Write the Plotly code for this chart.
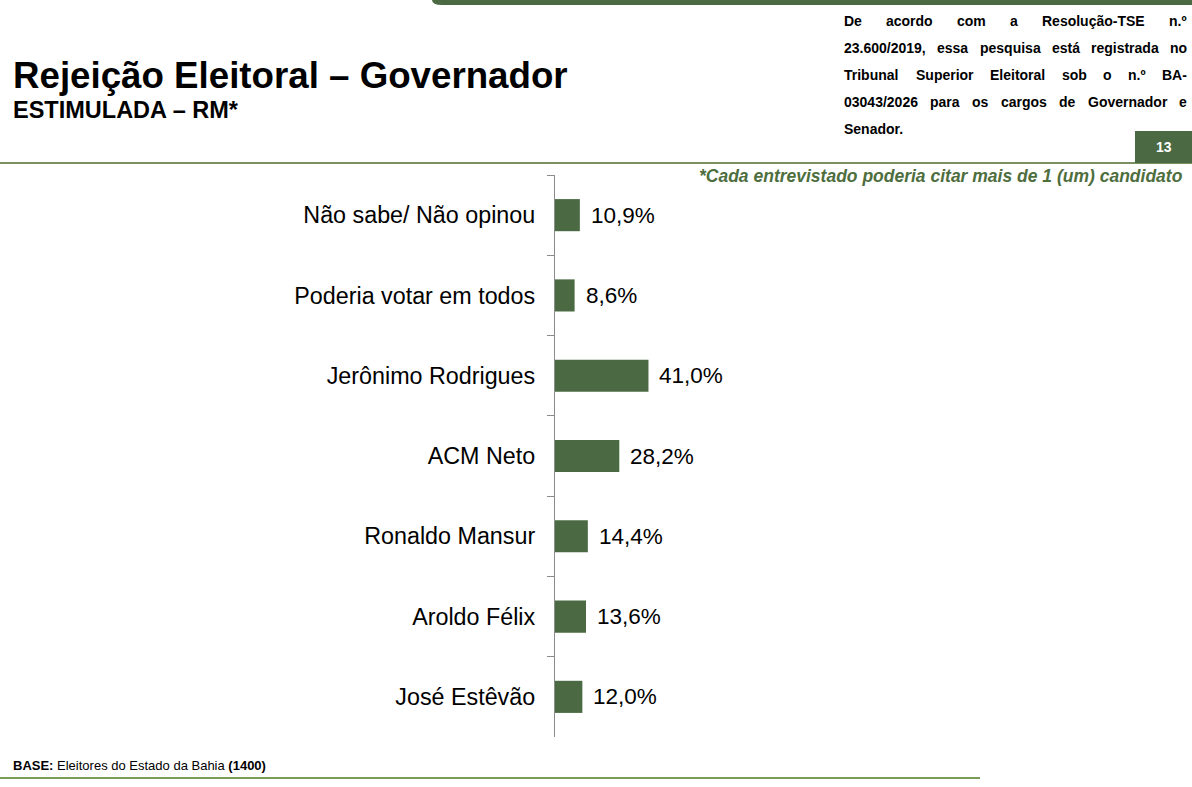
import plotly.graph_objects as go

# ---- data ----
categories = ["Não sabe/ Não opinou", "Poderia votar em todos", "Jerônimo Rodrigues",
              "ACM Neto", "Ronaldo Mansur", "Aroldo Félix", "José Estêvão"]
values = [10.9, 8.6, 41.0, 28.2, 14.4, 13.6, 12.0]
value_labels = [f"{v:.1f}".replace(".", ",") + "%" for v in values]

title_text = "Rejeição Eleitoral – Governador"
subtitle_text = "ESTIMULADA – RM*"
note_text = "*Cada entrevistado poderia citar mais de 1 (um) candidato"
base_text = "<b>BASE:</b> Eleitores do Estado da Bahia <b>(1400)</b>"
page_number = "13"
legal_lines = [
    "De acordo com a Resolução-TSE n.º",
    "23.600/2019, essa pesquisa está registrada no",
    "Tribunal Superior Eleitoral sob o n.º BA-",
    "03043/2026 para os cargos de Governador e",
    "Senador.",
]

# ---- geometry ----
W, H = 1192, 787
L, T = 555, 175
PW, PH = 228, 562
R = W - L - PW
B = H - T - PH

def px(x):
    return (x - L) / PW

def py(y):
    return (T + PH - y) / PH

FONT = "Liberation Sans, Arial, sans-serif"
GREEN = "#4b6a43"
LINE_GREEN = "#4f6a2c"

# Arial/Liberation Sans Bold advance widths (per 1000 em) for justified text layout
_W = {c: 556 for c in "0123456789"}
_W.update({'a': 556, 'b': 611, 'c': 556, 'd': 611, 'e': 556, 'f': 333, 'g': 611, 'h': 611, 'i': 278,
           'j': 278, 'k': 556, 'l': 278, 'm': 889, 'n': 611, 'o': 611, 'p': 611, 'q': 611, 'r': 389,
           's': 556, 't': 333, 'u': 611, 'v': 556, 'w': 778, 'x': 556, 'y': 556, 'z': 500,
           'A': 722, 'B': 722, 'C': 722, 'D': 722, 'E': 667, 'G': 778, 'R': 722, 'S': 667, 'T': 611,
           '.': 278, ',': 278, '/': 278, '-': 333, 'º': 365, 'ç': 556, 'ã': 556, 'á': 556, 'é': 556})

def text_w(s, size):
    return sum(_W.get(ch, 556) for ch in s) * size / 1000.0

LEG_SIZE = 14
LEG_LEFT, LEG_RIGHT = 842, 1185
LEG_TOP, LEG_STEP = 21, 27

fig = go.Figure()
fig.add_trace(go.Bar(
    x=values, y=categories, orientation="h",
    marker=dict(color=GREEN, line=dict(width=0)),
    width=0.4, hoverinfo="skip",
))

annotations = []
for c, v, lab in zip(categories, values, value_labels):
    annotations.append(dict(x=v, y=c, xref="x", yref="y", text=lab, showarrow=False,
                            xanchor="left", yanchor="middle", xshift=9,
                            font=dict(family=FONT, size=22.5, color="black")))

annotations.append(dict(x=px(11), y=py(76), xref="paper", yref="paper", text=f"<b>{title_text}</b>",
                        showarrow=False, xanchor="left", yanchor="middle",
                        font=dict(family=FONT, size=36.7, color="black")))
annotations.append(dict(x=px(11), y=py(110), xref="paper", yref="paper", text=f"<b>{subtitle_text}</b>",
                        showarrow=False, xanchor="left", yanchor="middle",
                        font=dict(family=FONT, size=23.5, color="black")))
annotations.append(dict(x=px(1185), y=py(176), xref="paper", yref="paper", text=f"<b><i>{note_text}</i></b>",
                        showarrow=False, xanchor="right", yanchor="middle",
                        font=dict(family=FONT, size=17.5, color="#4e6e3e")))
annotations.append(dict(x=px(11), y=py(765), xref="paper", yref="paper", text=base_text,
                        showarrow=False, xanchor="left", yanchor="middle",
                        font=dict(family=FONT, size=13, color="black")))
annotations.append(dict(x=px(1164), y=py(147), xref="paper", yref="paper", text=f"<b>{page_number}</b>",
                        showarrow=False, xanchor="center", yanchor="middle",
                        font=dict(family=FONT, size=14, color="white")))

# justified legal text (last line left aligned)
for i, line in enumerate(legal_lines):
    words = line.split(" ")
    yy = LEG_TOP + i * LEG_STEP
    last = i == len(legal_lines) - 1
    if last or len(words) == 1:
        xs, x = [], LEG_LEFT
        for w in words:
            xs.append(x)
            x += text_w(w, LEG_SIZE) + 0.278 * LEG_SIZE
    else:
        total = sum(text_w(w, LEG_SIZE) for w in words)
        gap = (LEG_RIGHT - LEG_LEFT - total) / (len(words) - 1)
        xs, x = [], LEG_LEFT
        for w in words:
            xs.append(x)
            x += text_w(w, LEG_SIZE) + gap
    for w, xx in zip(words, xs):
        annotations.append(dict(x=px(xx), y=py(yy), xref="paper", yref="paper", text=f"<b>{w}</b>",
                                showarrow=False, xanchor="left", yanchor="middle",
                                font=dict(family=FONT, size=LEG_SIZE, color="black")))

shapes = []
# top bar with rounded left end
x0, x1 = px(432), px(W)
y0, y1 = py(0), py(5)
xr = px(442)
shapes.append(dict(type="path", xref="paper", yref="paper",
                   path=f"M {x0},{y0} L {x1},{y0} L {x1},{y1} L {xr},{y1} Q {x0},{y1} {x0},{y0} Z",
                   fillcolor=GREEN, line=dict(width=0)))
# header separator line
shapes.append(dict(type="line", xref="paper", yref="paper", x0=px(0), x1=px(W), y0=py(163), y1=py(163),
                   line=dict(color=LINE_GREEN, width=1.5)))
# page number box
shapes.append(dict(type="rect", xref="paper", yref="paper", x0=px(1135), x1=px(W), y0=py(131), y1=py(163),
                   fillcolor=GREEN, line=dict(width=0)))
# bottom line
shapes.append(dict(type="line", xref="paper", yref="paper", x0=px(0), x1=px(980), y0=py(778), y1=py(778),
                   line=dict(color="#4f7a23", width=1.5)))

fig.update_layout(
    width=W, height=H,
    margin=dict(l=L, r=R, t=T, b=B, pad=0),
    paper_bgcolor="white", plot_bgcolor="white",
    showlegend=False,
    annotations=annotations,
    shapes=shapes,
    xaxis=dict(range=[0, 100], visible=False, fixedrange=True),
    yaxis=dict(autorange="reversed", showline=True, linecolor="#8c8c8c", linewidth=1.3,
               ticks="outside", tickson="boundaries", ticklen=7, tickcolor="#8c8c8c", tickwidth=1.3,
               ticklabelstandoff=14, showgrid=False, zeroline=False, fixedrange=True,
               tickfont=dict(family=FONT, size=23.3, color="black")),
)

fig.write_html("out.html", config={"displayModeBar": False},
               post_script="document.body.style.margin='0';document.body.style.overflow='hidden';")
